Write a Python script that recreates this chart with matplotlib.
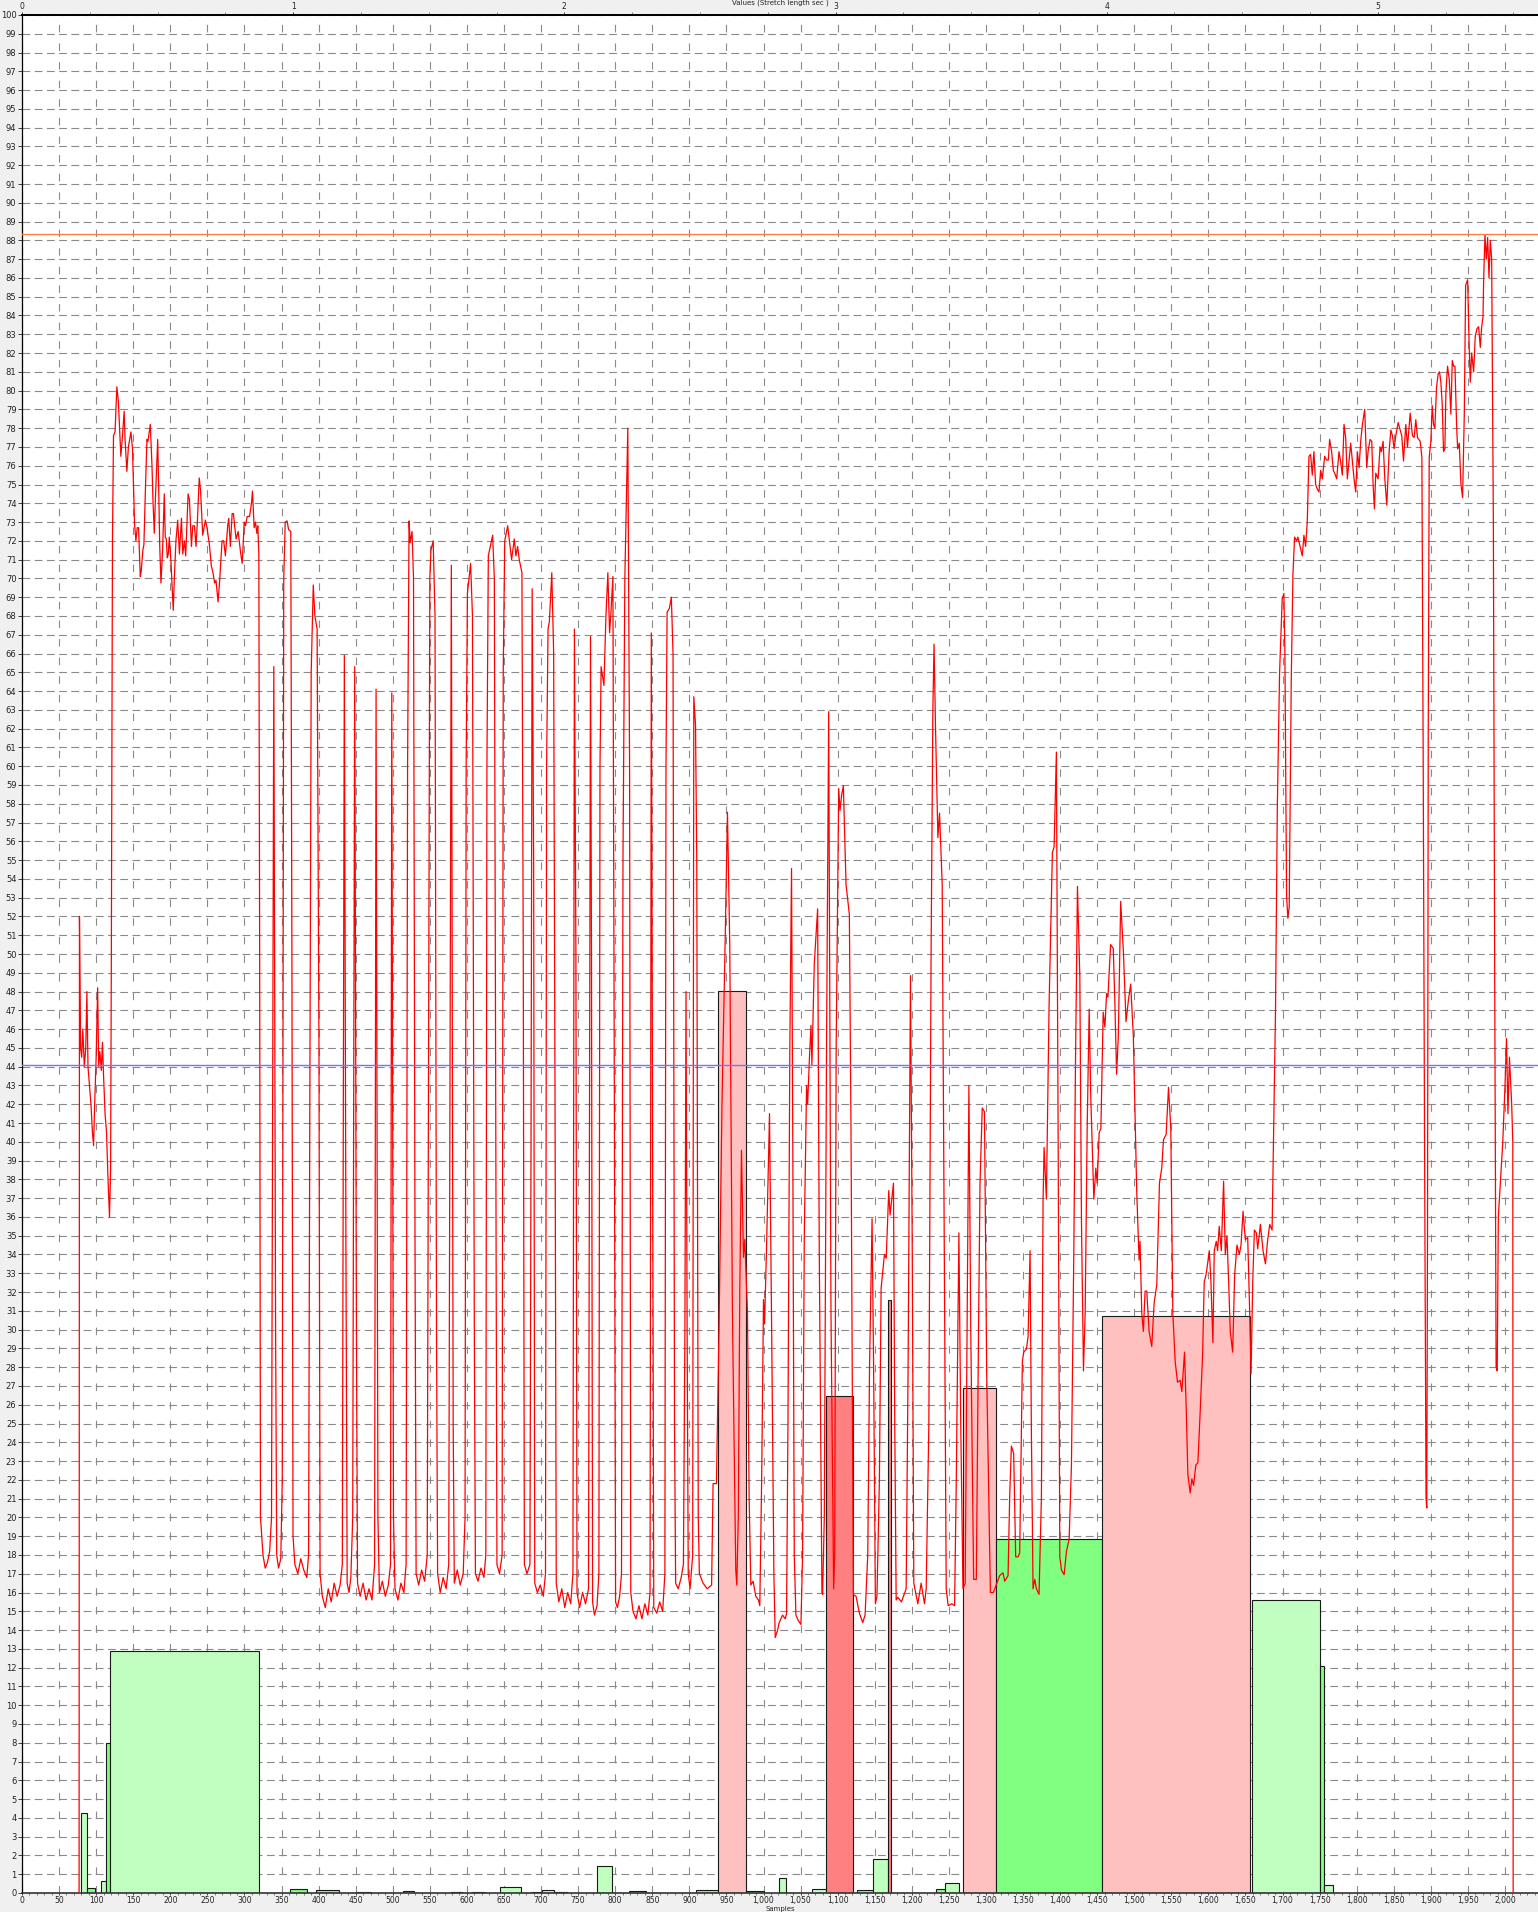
import numpy as np
import matplotlib
matplotlib.use("Agg")
import matplotlib.pyplot as plt
from matplotlib.ticker import MultipleLocator, FixedLocator, FuncFormatter

plt.rcParams["lines.scale_dashes"] = False
plt.rcParams["font.family"] = ["DejaVu Sans"]

# signal trace (sample, value), in pieces
trace_a = [(77, 0), (77.5, 52), (79, 45), (80.5, 44.5), (82, 46), (84, 44), (86, 45), (87.5, 48), (89, 44),
           (91, 43), (93, 42), (95, 40.5), (96.5, 39.8), (98, 42), (100, 44.5), (102, 48.2), (103.5, 44),
           (105, 44.8), (107, 43.8), (108.5, 45.3), (110, 43.5), (112, 41.5), (114, 40.5), (116, 38), (118, 36),
           (119.5, 38.5), (120.5, 50), (122, 72), (123.4, 77.6), (125.5, 77.8), (127.9, 80.2), (130, 79.4),
           (133.3, 76.5), (135.5, 77.6), (137.8, 78.9), (139, 77.4), (141.4, 75.7), (143.5, 77.0), (146.9, 77.8),
           (149, 76.9), (151.8, 72.9), (153.6, 72.0), (155.4, 72.7), (157.2, 72.7), (159.5, 70.1), (160.8, 70.4),
           (163, 71.5), (164.4, 71.8), (166.2, 74.4), (168.5, 77.4), (169.9, 77.3), (173, 78.2), (175.3, 76.0),
           (176.6, 74.2), (178.4, 72.4), (179.7, 74.0), (181, 75.4), (183, 77.4), (184.3, 74.9), (185.7, 71.8),
           (187.4, 69.75), (189.6, 71.5), (191.9, 74.5), (193.2, 72.2), (194.6, 72.1), (195.9, 71.1), (197.3, 71.3),
           (198.6, 72.2), (200.9, 70.9), (202.2, 69.75), (204, 68.3), (205.4, 70.0), (207.6, 72.0), (210, 73.1),
           (212.3, 71.3), (215, 73.2), (216.8, 71.3), (219, 72.0), (220.8, 71.2), (224, 74.5), (225.8, 74.2),
           (228.5, 71.7), (230.3, 72.8), (232.6, 72.8), (234.7, 71.7), (236.6, 73.1), (239, 75.35), (240.8, 74.7),
           (243.7, 72.3), (247.3, 73.1), (249.5, 72.7), (252.7, 71.8), (255.4, 70.65), (257.6, 70.3),
           (259.8, 69.75), (261.6, 69.9), (264.4, 68.75), (266.6, 69.9), (269.8, 72.0), (272, 72.0), (274.3, 71.2),
           (277.4, 72.8), (278.8, 73.2), (281, 71.7), (283.4, 73.45), (285.2, 73.45), (287, 72.7), (288.8, 72.1),
           (291.5, 72.5), (294.7, 71.4), (296.9, 70.8), (297.8, 71.4), (299.6, 73.0), (301.4, 72.8), (303.7, 73.3),
           (306.8, 73.3), (309.5, 74.0), (310.8, 74.65), (313.1, 72.7), (314.9, 73.0), (316.7, 72.4), (318, 72.8),
           (319.4, 71.3), (320.5, 50), (321.6, 20)]

trace_b = [(322.5, 19.5), (325, 18), (328, 17.3), (331, 17.6), (334, 18.2), (336.5, 20), (339.6, 65.3), (342, 30),
           (343.5, 18), (346, 17.3), (349, 17.8), (351, 22), (353, 70), (355, 73.0), (357.5, 73.06), (359.5, 72.6),
           (362.5, 72.5), (364, 50), (365.5, 19), (368, 17.5), (372, 17), (376, 17.8), (380, 17.2), (384, 16.8),
           (386.5, 18), (388, 40), (390, 65), (392.8, 69.65), (395, 68), (398, 67.3), (400.5, 45), (402, 17),
           (405, 15.8), (409, 15.2), (413, 16.2), (417, 15.5), (421, 16.5), (425, 15.8), (429, 16.4), (432, 17.5),
           (434.7, 65.9), (436.8, 35), (438.5, 16.5), (441, 16.0), (443.5, 16.8), (446, 20), (448.7, 65.3),
           (451, 30), (452.5, 16.5), (456, 15.8), (460, 16.5), (464, 15.6), (468, 16.2), (472, 15.6), (475.5, 17.5),
           (477.5, 64.1), (480, 20), (482, 16.0), (486, 16.6), (490, 15.8), (494, 16.4), (497, 17.5), (498.7, 63.9),
           (501, 20), (503, 16.2), (507, 15.6), (511, 16.5), (515, 16.0), (518, 17.5), (520, 60), (522, 73.06),
           (523.5, 71.9), (526, 72.5), (528, 70), (530, 35), (531.5, 17), (535, 16.4), (539, 17.2), (543, 16.6),
           (546.5, 18), (548, 40), (550, 70), (551.5, 71.5), (554.5, 72.0), (557, 68), (559, 30), (560.5, 17),
           (564, 16.0), (568, 16.8), (572, 16.2), (575.5, 17.5), (579, 70.7), (581.5, 25), (583, 16.5), (587, 17.2),
           (591, 16.4), (595, 17), (597.5, 20), (599, 60), (600.7, 69.2), (605, 70.8), (607.5, 68), (610, 30),
           (611.5, 17), (615, 16.6), (619, 17.3), (623, 16.8), (625.5, 18), (627, 60), (628.9, 71.2), (634.7, 72.3),
           (637, 70), (639, 40), (640.5, 17.5), (644, 17.0), (647.5, 18), (649, 65), (651, 72), (655, 72.8),
           (660.3, 71.0), (663.9, 72.1), (666.1, 71.2), (668.4, 71.7), (670.6, 71.0), (674.2, 70.3), (676, 50),
           (677.5, 17.5), (681, 17.0), (685, 17.5), (686.5, 40), (688, 69.45), (690, 55), (691.5, 16.5), (695, 16.0),
           (699, 16.4), (703, 15.8), (706, 17), (707.5, 60), (709.4, 67.3), (711.2, 67.7), (714.5, 70.3), (717, 66),
           (719, 40), (720.5, 16.5), (724, 15.5), (728, 16.2), (732, 15.2), (736, 16.0), (740, 15.4), (743, 17),
           (745, 67.3), (747, 50), (748.5, 16.0), (752, 15.2), (756, 16.0), (760, 15.4), (764, 16.2), (766.7, 66.9),
           (768, 50), (769.5, 15.5), (772, 14.8), (775.5, 15.3), (778, 17), (779.5, 60), (781, 65.3), (784.8, 64.3),
           (787.5, 68), (790.1, 70.3), (792.4, 67.1), (794, 68), (796.9, 70.1), (799, 40), (800.5, 15.5),
           (803, 15.2), (806, 15.8), (808.5, 17), (810.5, 55), (813, 70), (817, 78.0), (819.4, 60), (821, 16),
           (824, 15.0), (828, 14.6), (832, 15.3), (836, 14.6), (840, 15.4), (844, 14.8), (847, 16), (848.7, 67.1),
           (850.5, 40), (852, 15.2), (856, 14.9), (860, 15.5), (864, 15.0), (867, 17), (868.5, 60), (870, 68.2),
           (873, 68.4), (875.7, 69.0), (878, 66), (880, 25), (881.5, 16.5), (885, 16.2), (889, 16.8), (892, 17.5),
           (894, 30), (895.5, 48), (897, 30), (898.5, 17), (901, 16.2), (904.5, 18), (906, 63.7), (908.3, 62.2),
           (910, 55), (912, 20), (913.5, 17), (918.5, 16.5), (924, 16.2), (930, 16.4), (932, 21.8)]

trace_c = [(936.5, 21.8), (940, 30), (944, 42), (948.2, 50.5), (951.4, 57.55), (954.5, 50.5), (958.1, 30.9),
           (962.6, 17.2), (964, 16.4), (966, 20), (968, 32), (970.3, 39.55), (973, 33.85), (974.8, 34.8),
           (978.4, 30.9), (980.6, 21.1), (982.9, 16.4), (986, 16.6), (989.6, 15.8), (993.2, 15.6), (995, 15.3),
           (997.5, 22), (1000, 31.6), (1001.4, 30.3), (1004, 34.2), (1008.1, 41.5), (1011, 30), (1014, 17),
           (1015.8, 13.6), (1019, 14.0), (1021.2, 14.4), (1025.7, 14.8), (1029.3, 14.6), (1031.1, 14.9), (1033, 25),
           (1035.5, 45), (1037.8, 54.55), (1039.5, 40), (1041.5, 18), (1043.7, 14.8), (1047, 14.5), (1050.5, 14.3),
           (1052.7, 18), (1055, 35), (1058.1, 43.0), (1059.5, 42), (1062, 44.5), (1064, 46.2), (1065.3, 44.1),
           (1068.5, 49.5), (1073, 52.4), (1075.2, 34.2), (1078.8, 16), (1079.7, 15.9), (1082, 20), (1085, 45),
           (1087.9, 62.9), (1091, 30.9), (1094.6, 16.2), (1096, 18), (1098, 45), (1101.4, 58.8), (1103.2, 57.65),
           (1105.5, 58.5), (1107.7, 58.95), (1111.3, 53.7), (1115.8, 52.1), (1118, 40.7), (1121.2, 15.9),
           (1124.8, 15.8), (1129.3, 14.9), (1133.8, 14.4), (1137, 14.8), (1140.6, 18), (1143, 28), (1146.4, 35.9),
           (1148.5, 28), (1150.9, 15.4), (1153, 15.8), (1156.3, 22), (1158.6, 32.2), (1163.1, 34.0), (1165.5, 33.8),
           (1168.9, 37.4), (1170.7, 36.1), (1175.3, 37.8), (1177, 25), (1178.9, 15.6), (1181.1, 15.75),
           (1186, 15.5), (1192.4, 16.2), (1195, 28), (1198.2, 48.85), (1200.5, 35), (1202.7, 16.5), (1208.1, 15.4),
           (1212.6, 16.5), (1217.1, 15.4), (1219.4, 16.2), (1223, 25), (1226, 50), (1228.4, 63), (1230, 66.5),
           (1232, 62), (1235.2, 56.2), (1237.4, 57.5), (1241, 53.7), (1244.2, 30.9), (1246.4, 16.2), (1249, 15.3),
           (1254, 15.4), (1257.7, 15.3), (1260, 22), (1263.5, 35.15), (1266, 25), (1269, 16.2), (1272, 16.5),
           (1274.5, 30), (1277, 43.0), (1279.5, 30), (1283.4, 16.7), (1287, 16.7), (1290, 30), (1292, 37.8),
           (1295, 41.8), (1298, 41.6), (1301, 27.65), (1306, 16.0), (1310, 16.0), (1318.5, 16.9)]

trace_d = [(1323, 17.05), (1325.3, 16.6), (1329.8, 16.9), (1332, 21.1), (1334.3, 23.8), (1337.4, 23.4),
           (1340.1, 17.9), (1343.3, 17.9), (1345.5, 18.1), (1349.1, 28.3), (1350.9, 28.8), (1354.5, 28.95),
           (1356.8, 29.6), (1359.5, 34.2), (1361.3, 24.4), (1363.5, 16.2), (1365.8, 16.7), (1368.1, 16.2),
           (1371.6, 15.9), (1374.8, 21.1), (1377, 36.8), (1378.4, 39.7), (1381.5, 36.95), (1385.1, 47.2),
           (1389.6, 55.4), (1391.9, 55.7), (1395, 60.75), (1397.3, 40.7), (1399.6, 17.9), (1401.8, 17.2),
           (1405.4, 16.95), (1408.6, 18.2), (1412.2, 18.85), (1415.3, 22.8), (1418.5, 34.2), (1420.7, 44.0),
           (1423.4, 53.6), (1426.6, 48.8), (1428.8, 35.8), (1431.5, 27.8), (1433.8, 30.9), (1436.5, 40.7),
           (1439.2, 47.06), (1441.4, 42.3), (1445.5, 36.95), (1448.2, 38.6), (1450, 37.8), (1452.7, 40.5),
           (1455, 40.7), (1458.1, 46.9), (1460.4, 46.1), (1462.7, 47.9), (1464.5, 47.7), (1468.1, 50.5),
           (1471.7, 50.3), (1474, 47.2), (1476.2, 43.6), (1478.5, 45.6), (1481.7, 52.8), (1485.3, 50.15),
           (1488.9, 46.4), (1492, 47.5), (1495.2, 48.4), (1498.8, 45.6), (1503.3, 37.4), (1506.5, 33.7),
           (1507.8, 34.7), (1510.1, 30.9), (1512.3, 29.9), (1514.6, 32.05), (1516.9, 32.05), (1520, 29.9),
           (1523.6, 29.1), (1526.8, 31.4), (1530.4, 32.4), (1534, 37.8), (1537.1, 38.6), (1539.4, 40.1),
           (1543, 40.4), (1546.2, 42.9), (1549.3, 40.7), (1552, 30.9), (1555.2, 28.3), (1558.3, 27.2),
           (1561.9, 27.3), (1564.2, 26.7), (1567.8, 28.8), (1570, 25.9), (1572.3, 22.3), (1575.4, 21.3),
           (1577.7, 22.05), (1580, 21.7), (1583.1, 22.8), (1585.8, 22.9), (1589, 25.7), (1592.1, 28.6),
           (1594.4, 32.55), (1596.7, 32.9), (1598.9, 33.5), (1601.2, 34.2), (1603.4, 32.55), (1606.1, 29.3),
           (1607.9, 34.2), (1610.6, 34.7), (1612.4, 34.2), (1614.6, 35.5), (1617.4, 34.2), (1620.5, 37.9),
           (1622.8, 34.0), (1625, 35.0), (1627.3, 32.55), (1629.5, 29.9), (1632.7, 28.8), (1635.4, 32.9),
           (1638.5, 34.5), (1641.7, 34.0), (1644, 34.5), (1646.7, 36.3), (1649.8, 34.8), (1653, 34.9),
           (1655.7, 30.9), (1657.5, 27.65), (1659.8, 32.55), (1662, 35.3), (1664.7, 35.15), (1666.5, 34.3),
           (1670.1, 35.6), (1673.7, 34.2), (1676.9, 33.5), (1680, 34.8), (1682.7, 35.6), (1685.9, 35.3),
           (1688, 40.7)]

trace_e = [(1690.5, 47), (1693, 58), (1696, 65), (1699.5, 68.9), (1701.8, 69.2), (1703.2, 65.9), (1705.4, 53.1),
           (1707.2, 51.9), (1709, 52.5), (1711.7, 64.5), (1714, 70.2), (1716.2, 72.2), (1718.9, 72.0),
           (1720.7, 72.2), (1723.4, 71.75), (1726.6, 71.2), (1728.8, 72.3), (1731.1, 71.7), (1733.3, 73.0),
           (1735.6, 76.5), (1737.8, 76.6), (1740.1, 75.5), (1742.3, 76.75), (1744.6, 75.0), (1746.9, 74.75),
           (1749.1, 74.6), (1751.4, 75.75), (1753.6, 75.3), (1756.8, 76.5), (1759.5, 76.3), (1761.7, 76.3),
           (1763.5, 77.4), (1766.2, 76.75), (1768.5, 75.75), (1770.3, 75.6), (1773, 75.3), (1776.1, 76.75),
           (1778.4, 76.2), (1780.6, 75.5), (1782.9, 78.2), (1785.1, 77.5), (1787.4, 75.3), (1789.6, 76.2),
           (1791.9, 77.2), (1794.2, 76.2), (1796.4, 75.3), (1798.7, 74.6), (1800.9, 76.75), (1803.2, 75.9),
           (1805.4, 77.3), (1807.7, 78.2), (1810.8, 79.0), (1813.5, 75.9), (1815.3, 76.75), (1818, 77.4),
           (1820.3, 77.3), (1822.1, 75.0), (1823.9, 73.7), (1825.7, 75.6), (1828.8, 75.3), (1831.5, 77.0),
           (1833.3, 76.75), (1835.6, 77.3), (1837.9, 75.3), (1840.6, 73.9), (1843.7, 76.75), (1846, 77.9),
           (1848.2, 77.6), (1850.5, 76.9), (1852.7, 77.6), (1855.9, 78.3), (1858.6, 77.9), (1860.8, 77.6),
           (1863.1, 76.25), (1866.2, 78.2), (1868.5, 77.0), (1872.1, 78.8), (1875.2, 77.6), (1877.5, 77.5),
           (1879.7, 78.45), (1882, 77.5), (1885.6, 77.3), (1887.9, 76.45), (1889.7, 60), (1891.5, 40),
           (1893.5, 21), (1894.5, 20.5), (1895.5, 35), (1896.5, 62), (1897.8, 76.45), (1900, 77.3), (1901.8, 79.2),
           (1903.6, 78.2), (1905.4, 78.0), (1907.7, 80.2), (1909.9, 80.9), (1911.7, 81.0), (1913.5, 80.45),
           (1915.3, 79.3), (1917.1, 76.75), (1918.9, 76.9), (1920.3, 79.9), (1922.5, 81.3), (1924.8, 80.6),
           (1927, 78.75), (1928.9, 81.6), (1930.7, 81.3), (1932.5, 81.3), (1934.7, 78.2), (1936.1, 76.9),
           (1938.3, 77.2), (1940.6, 75.0), (1942.8, 74.3), (1945.1, 78.75), (1946.9, 85.6), (1949.6, 85.9),
           (1951.8, 82.2), (1953.2, 80.45), (1955, 82.0), (1957.7, 81.0), (1959.9, 82.9), (1962.2, 83.3),
           (1964.4, 83.4), (1966.7, 82.3), (1968.5, 83.4), (1970.3, 83.9), (1971.2, 85.9), (1973, 88.3),
           (1974.8, 87.0), (1976.6, 88.15), (1978.4, 86.0), (1980.2, 88.0), (1982, 87.0), (1984.3, 73.0),
           (1986, 50), (1988, 28), (1989.5, 27.8), (1991, 36), (1994, 38), (1997, 40), (2000, 43), (2002, 45.5),
           (2004, 41.5), (2006, 44.5), (2009, 42), (2010.5, 40), (2011, 0)]

# bars: left edge, right edge, height, fill
bar_left = [79, 87.3, 105.9, 113.3, 118.2, 361, 397, 450, 514, 579, 607, 645, 686, 701, 717, 775.4, 818, 845,
            909.5, 938.4, 976, 1021, 1065, 1084.5, 1126, 1148, 1168.5, 1232, 1245, 1269.5, 1314, 1456.8,
            1658.6, 1750, 1755.6]
bar_right = [87.3, 99, 112.8, 118.2, 319.9, 385, 428, 470, 528, 593, 624, 673.5, 701, 717, 735, 796, 841, 865,
             938.4, 976, 1001, 1031, 1084.5, 1120.5, 1148, 1168.5, 1172.5, 1245, 1263, 1314, 1456.8, 1655.5,
             1750, 1755.6, 1768.7]
bar_height = [4.28, 0.27, 0.62, 8.0, 12.9, 0.2, 0.18, 0.04, 0.12, 0.06, 0.06, 0.33, 0.05, 0.16, 0.03, 1.42,
              0.1, 0.02, 0.18, 48.05, 0.1, 0.78, 0.23, 26.45, 0.17, 1.83, 31.6, 0.23, 0.53, 26.9, 18.85, 30.75,
              15.6, 12.1, 0.44]
bar_kind = ["lg", "g", "lg", "g", "lg", "g", "g", "g", "lg", "g", "g", "lg", "g", "lg", "lg", "lg", "g", "g",
            "g", "pk", "g", "lg", "lg", "rd", "g", "lg", "rd", "g", "lg", "pk", "g", "pk", "lg", "g", "lg"]

upper_limit = 88.35
lower_limit = 44.1
top_scale = 365.7  # samples per top-axis unit
top_ticks = [0, 1, 2, 3, 4, 5]

fills = {"lg": "#c0ffc0", "g": "#80ff80", "pk": "#ffc0c0", "rd": "#ff8080"}

sig = np.array(trace_a + trace_b + trace_c + trace_d + trace_e)

fig = plt.figure(figsize=(15.38, 19.12), dpi=100, facecolor="#f0f0f0")
ax = fig.add_axes([22 / 1538, 19 / 1912, 1 - 22 / 1538, (1893 - 15) / 1912])
ax.set_facecolor("white")

left = np.array(bar_left)
width = np.array(bar_right) - left
ax.bar(left, bar_height, width=width, align="edge", color=[fills[k] for k in bar_kind],
       edgecolor="#1a1a1a", linewidth=0.8, zorder=2)

ax.plot(sig[:, 0], sig[:, 1], color="#ff0000", lw=0.9, zorder=3)
ax.axhline(upper_limit, color="#ff8040", lw=1.0, zorder=4)
ax.axhline(lower_limit, color="#7474ff", lw=1.0, zorder=4)

ax.set_xlim(0, 2044.5)
ax.set_ylim(0, 100)

# grid, dashed
ax.set_axisbelow(True)
ax.xaxis.set_major_locator(MultipleLocator(50))
ax.xaxis.set_minor_locator(MultipleLocator(10))
ax.yaxis.set_major_locator(FixedLocator(np.arange(0, 101)))
ax.xaxis.grid(True, color="#8a8a8a", lw=0.8, linestyle=(0, (5.4, 8.0)))
ax.yaxis.grid(True, color="#8a8a8a", lw=0.8, linestyle=(0, (5.6, 3.2)))
ax.xaxis.set_major_formatter(FuncFormatter(lambda v, p: f"{int(v):,}"))

ax.tick_params(axis="y", which="major", labelsize=6, length=3, width=0.6, pad=1, colors="#222222")
ax.tick_params(axis="x", which="major", labelsize=5.5, length=1.5, width=0.6, pad=0.5, colors="#222222")
ax.tick_params(axis="x", which="minor", length=1.2, width=0.5, colors="#444444")

ax.spines["right"].set_visible(False)
ax.spines["top"].set_linewidth(1.4)
ax.spines["left"].set_linewidth(0.9)
ax.spines["bottom"].set_linewidth(1.2)
ax.spines["bottom"].set_color("#333333")

secax = ax.secondary_xaxis("top", functions=(lambda s: s / top_scale, lambda t: t * top_scale))
secax.xaxis.set_major_locator(FixedLocator(top_ticks))
secax.xaxis.set_minor_locator(FixedLocator(np.arange(0.25, 5.6, 0.25)))
secax.tick_params(axis="x", which="major", labelsize=5.5, length=2.5, width=0.6, pad=0.5, colors="#222222")
secax.tick_params(axis="x", which="minor", length=2.5, width=0.5, colors="#555555")
secax.spines["top"].set_linewidth(1.4)

fig.text(780 / 1538, 1.0, "Values (Stretch length sec )", ha="center", va="top", fontsize=5, color="#222222")
fig.text(780 / 1538, 0.0, "Samples", ha="center", va="bottom", fontsize=5, color="#222222")

fig.savefig("out.png", dpi=100, facecolor=fig.get_facecolor())
